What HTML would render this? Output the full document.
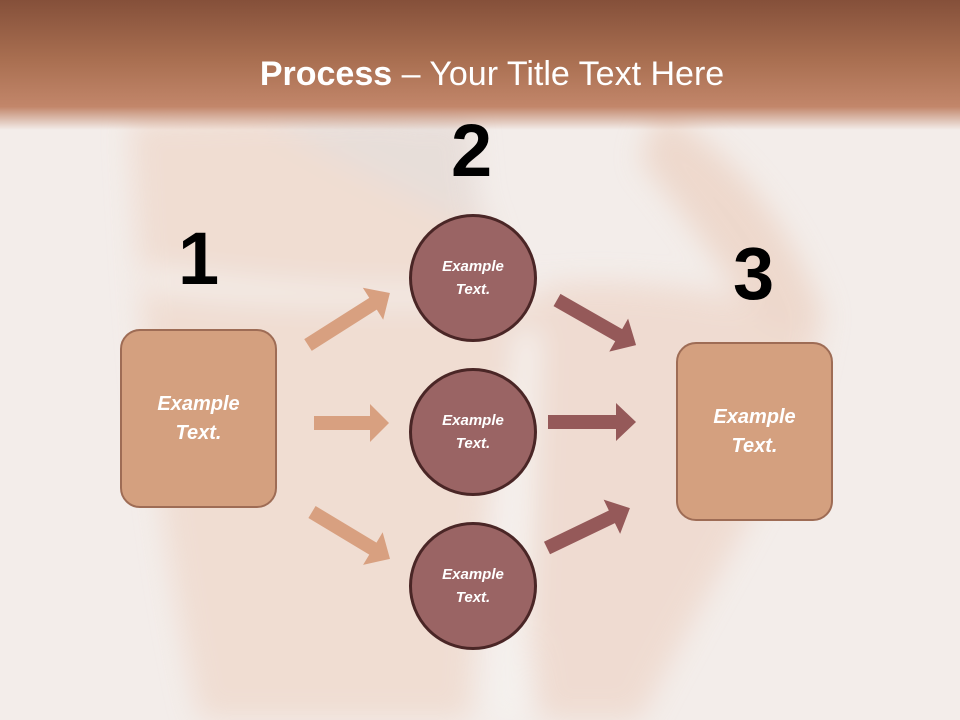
<!DOCTYPE html>
<html><head><meta charset="utf-8"><style>
body{margin:0;width:960px;height:720px;overflow:hidden;background:#f3edea;font-family:"Liberation Sans",sans-serif;}
.wrap{position:relative;width:960px;height:720px;}
.hdr{position:absolute;left:0;top:0;width:960px;height:130px;background:linear-gradient(#85503a 0%,#a86e50 45%,#c2866a 82%,rgba(194,134,106,0) 100%);}
.title{position:absolute;left:0;top:55px;width:984px;text-align:center;color:#fff;font-size:34px;font-family:"Liberation Sans",sans-serif;}
.num{position:absolute;font-size:74px;font-weight:bold;color:#000;font-family:"Liberation Sans",sans-serif;line-height:1;}
.box{position:absolute;width:153px;height:175px;background:#d4a07f;border:2px solid #9e6c55;border-radius:20px;color:#fff;font-weight:bold;font-style:italic;font-size:20px;display:flex;align-items:center;justify-content:center;text-align:center;line-height:29px;}
.c{position:absolute;width:122px;height:122px;border-radius:50%;background:#9a6464;border:3px solid #4a2626;color:#fff;font-weight:bold;font-style:italic;font-size:15px;display:flex;align-items:center;justify-content:center;text-align:center;line-height:23px;}
</style></head><body><div class="wrap">
<svg width="960" height="720" style="position:absolute;left:0;top:0">
<defs><filter id="b"><feGaussianBlur stdDeviation="14"/></filter></defs>
<g filter="url(#b)" opacity="0.75">
<path d="M130 120 C140 300 150 500 200 720 L470 720 C480 560 500 420 500 300 C500 200 440 140 400 110 Z" fill="#efd8cb"/>
<path d="M490 300 C560 270 700 280 820 320 C810 440 720 560 640 720 L540 720 C520 560 500 420 490 300Z" fill="#eed6c9"/>
<path d="M660 110 C730 150 790 220 825 320 L770 340 C730 280 690 220 640 160Z" fill="#ecd2c3"/>
<path d="M260 115 L470 115 L480 230 L340 160Z" fill="#e4d9d4"/>
<path d="M145 268 C250 285 380 295 540 285 L540 298 C380 308 250 303 145 288Z" fill="#f6f3f0"/>
<path d="M515 330 L540 330 L525 720 L492 720Z" fill="#f6f3f0"/>
</g>
<g fill="#d8a080">
<polygon transform="translate(308,345) rotate(-32.4)" points="0,-7 77,-7 77,-19 97,0 77,19 77,7 0,7"/>
<polygon transform="translate(314,423)" points="0,-7 56,-7 56,-19 75,0 56,19 56,7 0,7"/>
<polygon transform="translate(312,512) rotate(31)" points="0,-7 71,-7 71,-19 91,0 71,19 71,7 0,7"/>
</g>
<g fill="#955959">
<polygon transform="translate(557,300) rotate(29.7)" points="0,-7 71,-7 71,-19 91,0 71,19 71,7 0,7"/>
<polygon transform="translate(548,422)" points="0,-7 68,-7 68,-19 88,0 68,19 68,7 0,7"/>
<polygon transform="translate(547,548) rotate(-25.7)" points="0,-7 72,-7 72,-19 92,0 72,19 72,7 0,7"/>
</g>
</svg>
<div class="hdr"></div>
<div class="title"><b>Process</b> – Your Title Text Here</div>
<div class="num" style="left:178px;top:222px">1</div>
<div class="num" style="left:451px;top:114px">2</div>
<div class="num" style="left:733px;top:237px">3</div>
<div class="box" style="left:120px;top:329px">Example<br>Text.</div>
<div class="box" style="left:676px;top:342px">Example<br>Text.</div>
<div class="c" style="left:409px;top:214px">Example<br>Text.</div>
<div class="c" style="left:409px;top:368px">Example<br>Text.</div>
<div class="c" style="left:409px;top:522px">Example<br>Text.</div>
</div></body></html>
